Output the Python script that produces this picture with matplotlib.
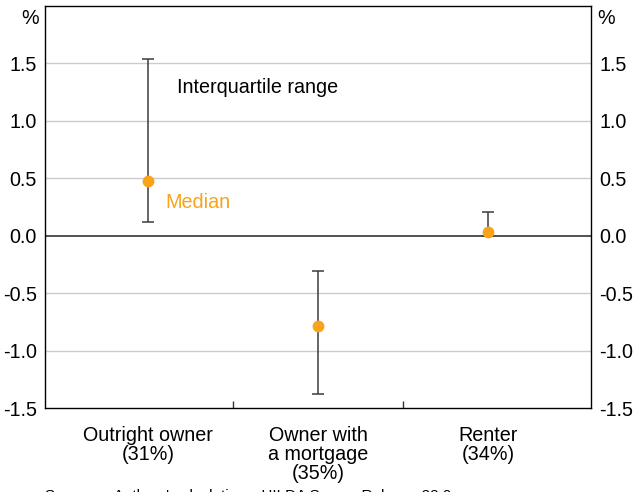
import matplotlib
matplotlib.use("Agg")
import matplotlib.pyplot as plt
from matplotlib.ticker import FixedLocator

plt.rcParams['font.family'] = ['Liberation Sans', 'DejaVu Sans']

# values
categories = ["Outright owner\n(31%)", "Owner with\na mortgage\n(35%)", "Renter\n(34%)"]
medians = [0.48, -0.79, 0.03]
upper_q = [1.54, -0.31, 0.21]
lower_q = [0.12, -1.38, 0.0]
y_ticks = [-1.5, -1.0, -0.5, 0.0, 0.5, 1.0, 1.5]

orange = "#f9a31a"
dark = "#3c3c3c"
fs = 14.2

fig = plt.figure(figsize=(6.33, 4.92), dpi=100)
ax = fig.add_axes([45 / 633, 1 - 408 / 492, 546 / 633, 402 / 492])

x = list(range(len(categories)))
err_lo = [m - l for m, l in zip(medians, lower_q)]
err_hi = [u - m for m, u in zip(medians, upper_q)]

ax.errorbar(x, medians, yerr=[err_lo, err_hi], fmt='none', ecolor=dark,
            elinewidth=1.1, capsize=4.5, capthick=1.1, zorder=3)
ax.plot(x, medians, 'o', color=orange, markersize=7.5, zorder=4)

ax.set_xlim(-0.606, 2.606)
ax.set_ylim(-1.5, 2.0)

for t in y_ticks[1:]:
    if t == 0:
        ax.axhline(t, color="#333333", lw=1.2, zorder=2)
    else:
        ax.axhline(t, color="#cccccc", lw=1.0, zorder=1)

ax.set_yticks(y_ticks)
ax.set_yticklabels([f"{t:.1f}" for t in y_ticks])
ax.tick_params(axis='y', length=0, labelsize=fs, pad=6,
               right=True, labelright=True)

ax.set_xticks(x)
ax.set_xticklabels(categories, fontsize=fs, linespacing=1.0)
ax.xaxis.set_minor_locator(FixedLocator([0.5, 1.5]))
ax.tick_params(axis='x', which='major', length=0, pad=13)
ax.tick_params(axis='x', which='minor', direction='in', length=5, width=1, color="#333333")

for s in ax.spines.values():
    s.set_color("black")
    s.set_linewidth(1.0)

ax.text(-0.012, 0.968, "%", transform=ax.transAxes, ha='right', va='center', fontsize=fs)
ax.text(1.012, 0.968, "%", transform=ax.transAxes, ha='left', va='center', fontsize=fs)

ax.text(0.17, 1.29, "Interquartile range", fontsize=fs, ha='left', va='center')
ax.text(0.105, 0.29, "Median", fontsize=fs, color=orange, ha='left', va='center')

fig.text(45 / 633, 1 - 489 / 492, "Source:    Authors' calculations; HILDA Survey Release 22.0",
         fontsize=11, ha='left', va='top')

fig.savefig("out.png", dpi=100)
